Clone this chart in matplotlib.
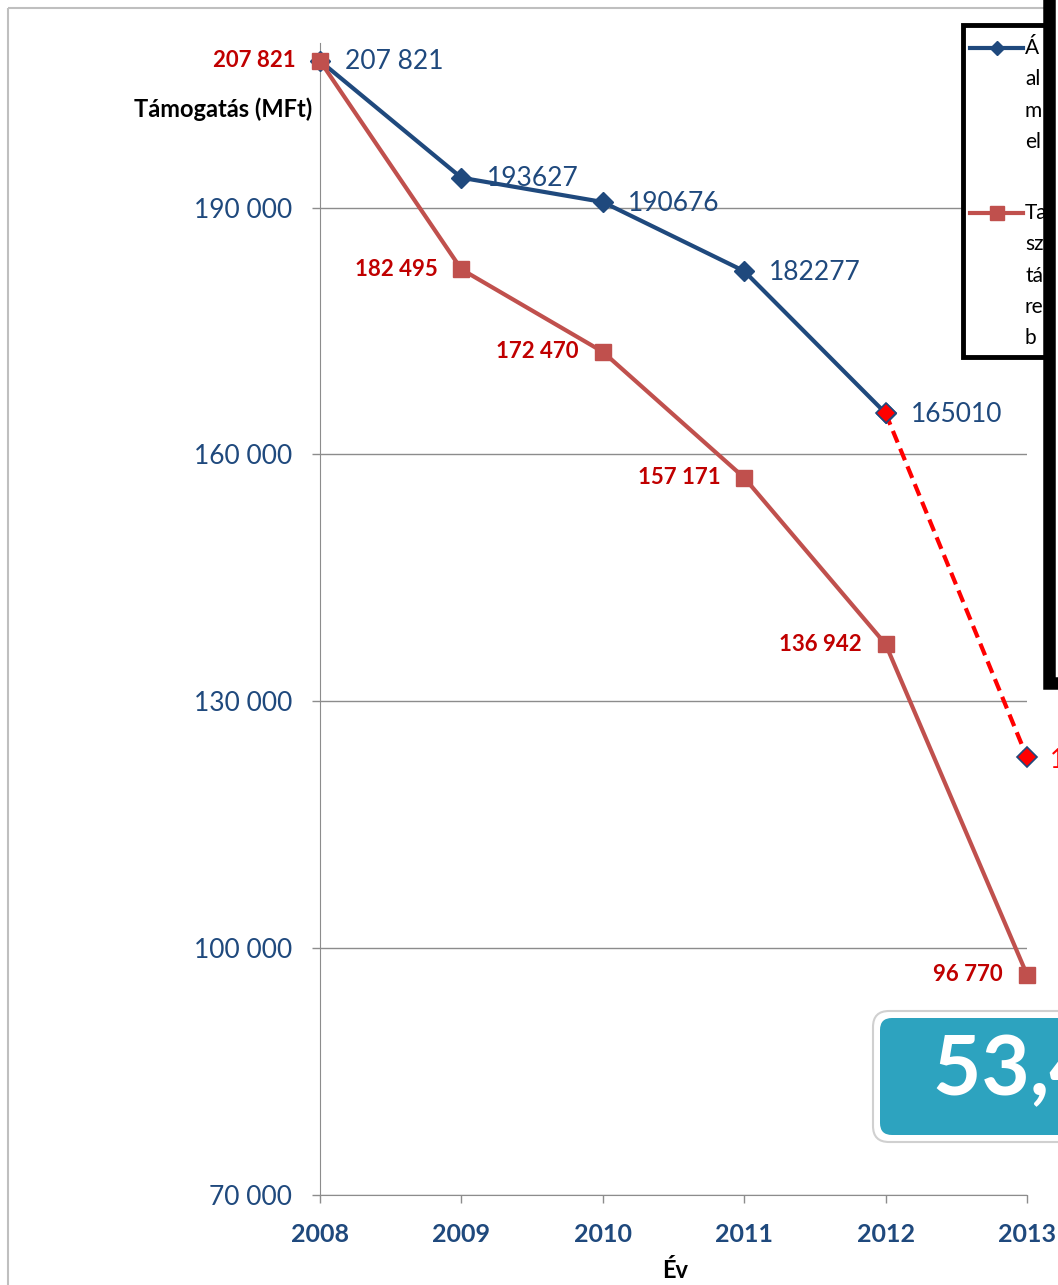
import numpy as np
import matplotlib
matplotlib.use("Agg")
import matplotlib.pyplot as plt
from matplotlib.patches import FancyBboxPatch, Rectangle

plt.rcParams['font.family'] = ['Lato', 'DejaVu Sans']

# adatok
evek = [2008, 2009, 2010, 2011, 2012, 2013]
kek_ertek = [207821, 193627, 190676, 182277, 165010]
kek_cimke = ["207 821", "193627", "190676", "182277", "165010"]
szagg_ev = [2012, 2013]
szagg_ertek = [165010, 123200]
szagg_cimke = "123 200"
piros_ertek = [207821, 182495, 172470, 157171, 136942, 96770]
piros_cimke = ["207 821", "182 495", "172 470", "157 171", "136 942", "96 770"]
y_tickek = [70000, 100000, 130000, 160000, 190000]
y_tick_cimke = ["70 000", "100 000", "130 000", "160 000", "190 000"]
legend_kek = ["Á", "al", "m", "el"]
legend_piros = ["Ta", "sz", "tá", "re", "b"]
doboz_szoveg = "53,4 %"

KEK = '#1F497D'
PIROS = '#C0504D'
SOTETPIROS = '#C00000'
W, H = 1058, 1285

fig = plt.figure(figsize=(W / 100, H / 100), dpi=100)
ax = fig.add_axes([320 / W, 1 - 1195 / H, 707 / W, (1195 - 43) / H])

ax.plot(evek[:5], kek_ertek, '-D', color=KEK, lw=3, ms=10, clip_on=False, zorder=3)
ax.plot(szagg_ev, szagg_ertek, '--D', color='#FF0000', lw=3, ms=10, dashes=(3, 1.6),
        mfc='#FF0000', mec=KEK, mew=1.2, clip_on=False, zorder=4)
ax.plot(evek, piros_ertek, '-s', color=PIROS, lw=3, ms=12, clip_on=False, zorder=5)

for x, y, c in zip(evek[:5], kek_ertek, kek_cimke):
    ax.annotate(c, (x, y), xytext=(25, -1), textcoords='offset pixels',
                ha='left', va='center', color=KEK, fontsize=19, zorder=6)
ax.annotate(szagg_cimke, (szagg_ev[1], szagg_ertek[1]), xytext=(23, -3),
            textcoords='offset pixels', ha='left', va='center', color='#FF0000',
            fontsize=19, annotation_clip=False)
for x, y, c in zip(evek, piros_ertek, piros_cimke):
    ax.annotate(c, (x, y), xytext=(-24, 0), textcoords='offset pixels',
                ha='right', va='center', color=SOTETPIROS, fontsize=16,
                fontweight='bold', zorder=6)

ax.set_xlim(2008, 2013)
ax.set_ylim(70000, 210000)
ax.set_xticks(evek)
ax.set_xticklabels([str(e) for e in evek], fontweight='bold', color=KEK, fontsize=18)
ax.set_yticks(y_tickek)
ax.set_yticklabels(y_tick_cimke, color=KEK, fontsize=19)
ax.tick_params(axis='both', direction='out', length=6, color='#8C8C8C', width=1)
ax.tick_params(axis='y', pad=14)
ax.tick_params(axis='x', pad=14)
ax.grid(axis='y', color='#8C8C8C', lw=1)
ax.set_axisbelow(True)
for s in ['top', 'right']:
    ax.spines[s].set_visible(False)
for s in ['left', 'bottom']:
    ax.spines[s].set_color('#8C8C8C')

ax.set_ylabel("Támogatás (MFt)", rotation=0, ha='right', va='center',
              fontweight='bold', fontsize=17)
ax.yaxis.set_label_coords(-0.011, (1195 - 109) / 1152)
ax.set_xlabel("Év", fontweight='bold', fontsize=17, va='center')
ax.xaxis.set_label_coords((675 - 320) / 707, (1195 - 1271) / 1152)

# rátét elemek pixelkoordinátákban
ov = fig.add_axes([0, 0, 1, 1], facecolor='none')
ov.set_xlim(0, W)
ov.set_ylim(H, 0)
ov.axis('off')

ov.add_patch(Rectangle((8, 8), W, H, fill=False, ec='#BFBFBF', lw=1.5))

# jelmagyarázat
ov.add_patch(Rectangle((963, 25), 100, 332, fc='white', ec='black', lw=3.5, zorder=2))
ov.plot([970, 1023], [48, 48], color=KEK, lw=3, zorder=3)
ov.plot([997], [48], 'D', color=KEK, ms=7, zorder=3)
ov.plot([970, 1023], [213, 213], color=PIROS, lw=3, zorder=3)
ov.plot([997], [213], 's', color=PIROS, ms=10, zorder=3)
for i, t in enumerate(legend_kek):
    ov.text(1025, 48 + i * 31.3, t, ha='left', va='center', fontsize=15, zorder=3)
for i, t in enumerate(legend_piros):
    ov.text(1025, 213 + i * 31.3, t, ha='left', va='center', fontsize=15, zorder=3)

# fekete szélű alakzat a jobb oldalon
ov.add_patch(Rectangle((1049, -20), 60, 703, fc='white', ec='black', lw=9, zorder=4))

# kiemelő doboz
ov.add_patch(FancyBboxPatch((873, 1011), 250, 131, boxstyle='round,pad=0,rounding_size=16',
                            fc='white', ec='#D0D0D0', lw=1.5, zorder=5))
ov.add_patch(FancyBboxPatch((880, 1018), 250, 117, boxstyle='round,pad=0,rounding_size=12',
                            fc='#2DA3BF', ec='none', zorder=6))
ov.text(933, 1072, doboz_szoveg, ha='left', va='center', color='white', fontsize=60,
        fontweight='bold', zorder=7)

fig.savefig("out.png", dpi=100)
